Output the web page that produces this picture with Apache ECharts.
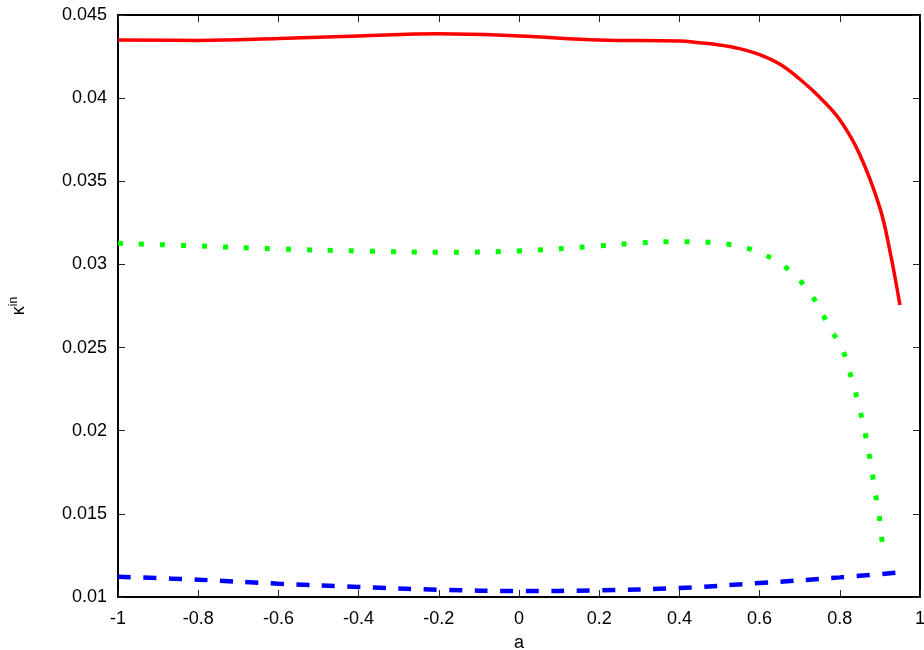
<!DOCTYPE html>
<html>
<head>
<meta charset="utf-8">
<script src="https://cdn.jsdelivr.net/npm/echarts@6/dist/echarts.min.js"></script>
<style>
  html, body { margin: 0; padding: 0; background: #fff; }
  #chart { width: 924px; height: 650px; }
</style>
</head>
<body>
<div id="chart"></div>
<script>
// Spin parameter a and the corresponding kappa^in values for three curves
const redA = [-1, -0.8, -0.6, -0.4, -0.2, 0, 0.2, 0.4, 0.45, 0.5, 0.55, 0.6, 0.65, 0.7, 0.75, 0.8, 0.85, 0.9, 0.925, 0.95];
const redK = [0.04350, 0.04347, 0.04358, 0.04374, 0.04387, 0.04374, 0.04350, 0.04344, 0.04333, 0.04320, 0.04298, 0.04262, 0.04205, 0.04115, 0.04005, 0.03870, 0.03660, 0.03340, 0.03080, 0.02756];

const greenA = [-1, -0.8, -0.6, -0.4, -0.2, 0, 0.2, 0.3, 0.4, 0.45, 0.49, 0.545, 0.597, 0.644, 0.686, 0.721, 0.75, 0.774, 0.804, 0.821, 0.836, 0.849, 0.861, 0.871, 0.88, 0.888, 0.897, 0.903, 0.911];
const greenK = [0.03127, 0.03111, 0.03093, 0.03081, 0.03073, 0.03081, 0.03111, 0.03129, 0.03137, 0.03136, 0.03130, 0.03111, 0.03075, 0.03016, 0.02940, 0.02842, 0.02736, 0.02622, 0.02505, 0.02383, 0.02259, 0.02135, 0.02010, 0.01888, 0.01762, 0.01633, 0.01508, 0.01380, 0.01252];

const blueA = [-1, -0.8, -0.6, -0.4, -0.2, 0, 0.2, 0.4, 0.6, 0.8, 0.95];
const blueK = [0.01122, 0.01104, 0.01080, 0.01060, 0.01044, 0.01036, 0.01040, 0.01054, 0.01084, 0.01118, 0.01148];

const pairs = (xs, ys) => xs.map((x, i) => [x, ys[i]]);

const FONT = 'Liberation Sans, Arial, sans-serif';
const frameLine = { show: true, onZero: false, lineStyle: { color: '#000', width: 2 } };
const innerTick = { show: true, inside: true, length: 7, lineStyle: { color: '#222', width: 1 } };

const chart = echarts.init(document.getElementById('chart'), null, { renderer: 'canvas' });
chart.setOption({
  animation: false,
  backgroundColor: '#fff',
  grid: { left: 118, right: 4, top: 15, bottom: 53, containLabel: false, outerBoundsMode: 'none' },
  xAxis: [
    {
      type: 'value', min: -1, max: 1, interval: 0.2, position: 'bottom',
      axisLine: frameLine, axisTick: innerTick, splitLine: { show: false },
      axisLabel: {
        color: '#000', fontFamily: FONT, fontSize: 18, margin: 13,
        formatter: v => String(Math.round(v * 10) / 10)
      },
      name: 'a', nameLocation: 'middle', nameGap: 37,
      nameTextStyle: { color: '#000', fontFamily: FONT, fontSize: 18 }
    },
    {
      type: 'value', min: -1, max: 1, interval: 0.2, position: 'top',
      axisLine: frameLine, axisTick: innerTick, splitLine: { show: false },
      axisLabel: { show: false }
    }
  ],
  yAxis: [
    {
      type: 'value', min: 0.01, max: 0.045, interval: 0.005, position: 'left',
      axisLine: frameLine, axisTick: innerTick, splitLine: { show: false },
      axisLabel: {
        color: '#000', fontFamily: FONT, fontSize: 18, margin: 11,
        formatter: v => String(+v.toFixed(3))
      },
      name: '{k|κ}{s|in}', nameLocation: 'middle', nameGap: 88, nameRotate: 90,
      nameTextStyle: {
        color: '#000', fontFamily: FONT,
        rich: {
          k: { fontFamily: FONT, fontSize: 18, color: '#000', lineHeight: 22 },
          s: { fontFamily: FONT, fontSize: 12, color: '#000', verticalAlign: 'top', lineHeight: 22 }
        }
      }
    },
    {
      type: 'value', min: 0.01, max: 0.045, interval: 0.005, position: 'right',
      axisLine: frameLine, axisTick: innerTick, splitLine: { show: false },
      axisLabel: { show: false }
    }
  ],
  series: [
    {
      type: 'line', data: pairs(redA, redK), smooth: 0.4, showSymbol: false,
      lineStyle: { color: '#ff0000', width: 3.5 }, z: 3
    },
    {
      type: 'line', data: pairs(greenA, greenK), smooth: 0.4, showSymbol: false,
      lineStyle: { color: '#00ff00', width: 5, type: [5, 16], cap: 'butt' }, z: 3
    },
    {
      type: 'line', data: pairs(blueA, blueK), smooth: 0.4, showSymbol: false,
      lineStyle: { color: '#0000ff', width: 4.5, type: [13, 12.5], cap: 'butt' }, z: 3
    }
  ]
});
</script>
</body>
</html>
